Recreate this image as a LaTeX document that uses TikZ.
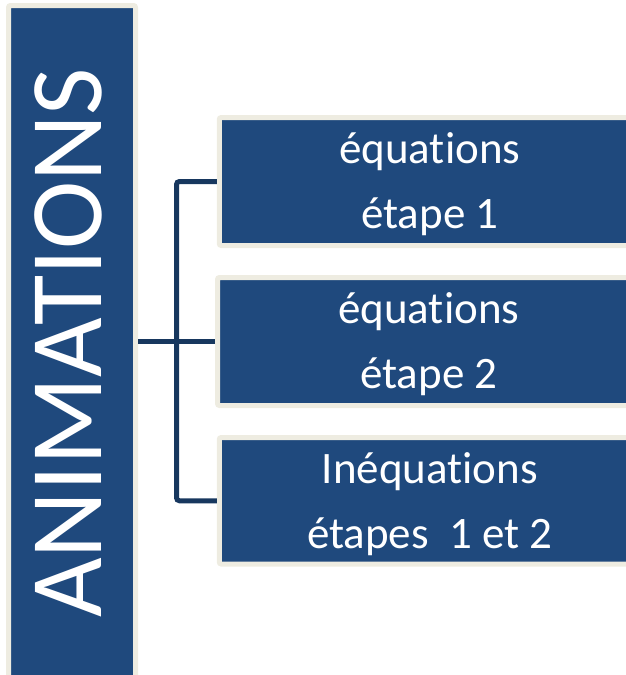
\documentclass[tikz,border=0pt]{standalone}
\usepackage{fontspec}
\setmainfont{Carlito}[Ligatures=NoCommon]
\usepackage{tikz}
\usetikzlibrary{positioning, calc}

\definecolor{boxblue}{HTML}{1F497D}
\definecolor{boxrim}{HTML}{EEECE1}
\definecolor{linkblue}{HTML}{17375E}

\begin{document}
\begin{tikzpicture}[
  x=1pt, y=-1pt,
  every node/.style = {text=white},
  box/.style    = {draw=boxrim, fill=boxblue, line width=5pt,
                   rounded corners=2pt, inner sep=0pt},
  topic/.style  = {box, minimum width=421pt, minimum height=128pt,
                   align=center, text depth=1pt,
                   font=\fontsize{45}{65}\selectfont},
  title/.style  = {font=\fontsize{103}{110}\selectfont, rotate=90, inner sep=0pt},
  conn/.style   = {draw=linkblue, line width=5pt, rounded corners=3pt}
]
\clip (0,0) rectangle (626,675);

\node[box, minimum width=127pt, minimum height=674.5pt] (anim) at (72, 342.75) {};
\node[title] (animtxt) at ([xshift=-3.5pt]anim.center) {ANIMATIONS};

\node[topic] (eq1)  at (429.75, 181.5)  {équations\\étape 1};
\node[topic, minimum width=422.5pt] (eq2) at (428.75, 341.5) {équations\\étape 2};
\node[topic, minimum height=126.5pt] (ineq) at (429.75, 500.75) {Inéquations\\étapes\ \ 1 et 2};

\coordinate (split) at ($(anim.east)!0.5!(eq2.west)$);

\draw[conn] (anim.east |- eq2.west) -- (eq2.west);
\draw[conn] (eq1.west) -| (split) |- (ineq.west);

\end{tikzpicture}
\end{document}
